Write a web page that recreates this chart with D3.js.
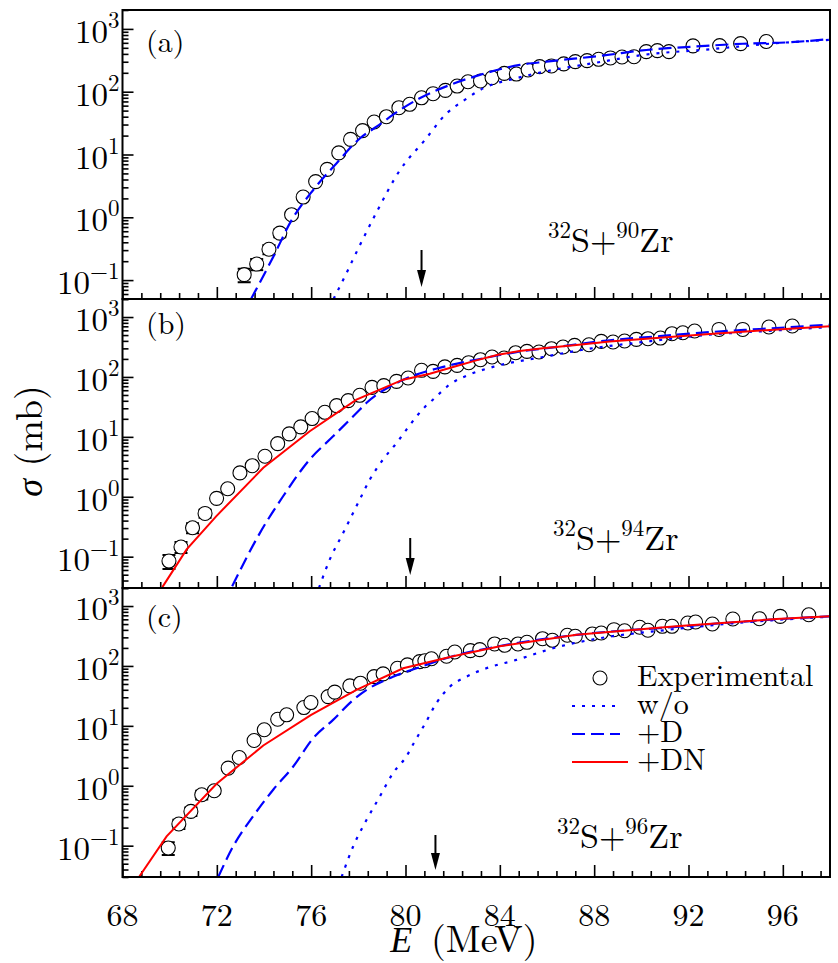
<!DOCTYPE html>
<html><head><meta charset="utf-8">
<script src="https://cdn.jsdelivr.net/npm/d3@7"></script>
<style>
body{margin:0;background:#fff}
svg{display:block}
</style>
</head><body>
<svg id="chart" width="838" height="963"></svg>
<script>
// ---------------- DATA ----------------
const xTicks = [68, 72, 76, 80, 84, 88, 92, 96];
const yTicks = [0.1, 1, 10, 100, 1000];
const panelLabels = ["(a)", "(b)", "(c)"];
const targets = ["90", "94", "96"];
const barrierE = [80.68, 80.2, 81.27];
const legendLabels = ["Experimental", "w/o", "+D", "+DN"];

// panel (a) 32S+90Zr : [E (MeV), sigma (mb)]
const expA = [[73.16,0.122],[73.69,0.18],[74.21,0.31],[74.67,0.56],[75.17,1.1],[75.66,2.1],[76.19,3.7],[76.68,5.8],[77.17,10.6],[77.67,17.4],[78.18,24],[78.67,32.9],[79.19,40],[79.72,55.6],[80.18,63],[80.68,80],[81.17,93],[81.69,105],[82.19,123],[82.65,144],[83.18,148],[83.67,167],[84.19,196],[84.70,191],[85.2,222],[85.69,251],[86.19,257],[86.71,277],[87.2,301],[87.7,312],[88.19,328],[88.69,345],[89.18,357],[89.69,361],[90.21,434],[90.68,451],[91.17,434],[92.19,536],[93.32,542],[94.21,583],[95.3,630]];
const errA = [0.03,0.036,0.052,0.08];
const woA = [[76.95,0.05],[77.5,0.13],[78.0,0.32],[78.77,1.2],[79.76,5.6],[80.82,17],[81.74,45],[82.51,74],[83.29,113],[84.7,164],[86.25,222],[87.95,284],[90.07,385],[92.9,474],[95.72,592],[98,670]];
const dA = [[73.45,0.05],[74.39,0.234],[75.17,0.9],[76.08,2.7],[77.07,7.2],[78.06,18],[78.77,27.7],[79.76,51],[80.6,78.5],[81.88,128],[83.15,185],[84.85,267],[85.97,301],[88.24,371],[90.49,474],[92.19,522],[94.3,580],[96.28,612],[98,690]];

// panel (b) 32S+94Zr
const expB = [[69.97,0.0845],[70.48,0.145],[70.97,0.304],[71.5,0.527],[71.99,0.94],[72.46,1.36],[72.98,2.5],[73.5,3.3],[74.04,4.75],[74.58,7.7],[75.07,11.2],[75.56,14.7],[76.04,20.2],[76.58,25.7],[77.08,33.2],[77.57,40.3],[78.06,49.4],[78.58,67],[79.08,71.6],[79.62,84.5],[80.11,96],[80.68,129],[81.17,124],[81.67,147],[82.19,156],[82.68,173],[83.18,194],[83.67,215],[84.18,207],[84.67,254],[85.15,267],[85.66,261],[86.19,296],[86.68,316],[87.17,336],[87.78,345],[88.3,392],[88.8,383],[89.29,398],[89.79,424],[90.28,435],[90.81,446],[91.3,527],[91.76,547],[92.26,584],[93.29,621],[94.3,621],[95.41,681],[96.4,708]];
const errB = [0.022,0.03,0.058,0.08];
const woB = [[76.33,0.03],[76.79,0.09],[77.36,0.25],[77.99,0.79],[78.49,1.94],[79.05,4.2],[79.62,7.9],[80.04,13.2],[80.47,22],[80.82,31.6],[81.17,42],[81.88,75],[82.72,110],[83.71,147],[85.83,215],[87.8,296],[90.07,383],[92.9,507],[95.72,598],[98,681]];
const dB = [[72.65,0.032],[73.83,0.25],[74.81,1.02],[75.94,4.2],[76.93,10.2],[77.92,25],[78.35,37],[79.76,84.5],[81.6,147],[83.36,207],[84.7,260],[86.5,320],[88.66,410],[90.78,480],[92.9,560],[95,630],[98,745]];
const dnB = [[69.69,0.031],[70.72,0.132],[71.99,0.48],[73.97,3.04],[75.94,12.4],[77.92,41.9],[79.9,90],[81.03,113],[82.02,147],[83.0,189],[83.92,235],[84.84,270],[85.83,300],[87.25,340],[88.66,390],[90.78,450],[92.9,520],[94.3,570],[98,700]];

// panel (c) 32S+96Zr
const expC = [[69.94,0.0916],[70.39,0.23],[70.9,0.373],[71.36,0.708],[71.89,0.826],[72.48,1.97],[72.95,2.96],[73.58,5.7],[74.01,8.6],[74.58,12.9],[74.96,15.3],[75.69,20.2],[75.99,24.5],[76.72,30.8],[77.0,36.5],[77.64,46.4],[78.09,51.5],[78.67,66.4],[79.05,73.6],[79.66,91.6],[80.08,104],[80.6,118],[80.82,122],[81.1,132],[81.74,145],[82.09,171],[82.75,180],[83.15,187],[83.78,233],[84.21,221],[84.77,233],[85.15,248],[85.81,285],[86.23,268],[86.86,325],[87.2,313],[87.92,342],[88.3,355],[88.84,403],[89.29,387],[89.93,442],[90.28,394],[90.89,459],[91.3,459],[91.97,521],[92.3,541],[93.01,501],[93.88,607],[95.01,614],[95.89,673],[97.1,716]];
const errC = [0.022,0.04,0.06,0.12,0.1];
const woC = [[77.29,0.03],[77.78,0.097],[78.35,0.27],[78.91,0.66],[79.47,1.63],[80.04,3.1],[80.32,4.9],[80.6,7.6],[80.82,10.7],[81.31,23.9],[81.88,45],[82.58,66],[83.43,91.6],[84.7,126],[86.25,197],[88.23,290],[91.06,398],[93.88,515],[98,664]];
const dC = [[72.06,0.03],[72.69,0.097],[73.54,0.31],[74.39,0.86],[75.24,2.1],[76.08,6.2],[76.93,12.6],[77.78,27],[78.35,39.8],[79.47,66],[80.47,91.6],[82.0,145],[84.0,215],[87.25,330],[91.48,450],[95.72,600],[98,673]];
const dnC = [[68.7,0.03],[69.87,0.143],[71.99,1.08],[73.97,4.7],[76.0,15.3],[77.92,39.8],[79.9,91.6],[82.02,145],[84.0,213],[87.25,333],[91.48,459],[95.72,607],[98,673]];

// ---------------- LAYOUT ----------------
const W = 838, H = 963;
const L = 122.5, R = 830;
const panelTop = [10, 299, 588];
const panelH = 289;
const yMinPanel = [0.05, 0.03, 0.03];
const yMax = 2000;
const FAM = "'Latin Modern Roman','Liberation Serif',serif";
const ITAL = "'Liberation Serif','DejaVu Serif',serif";
const BLUE = "#0000ff", RED = "#ff0000";

const panels = [
  {exp: expA, err: errA, wo: woA, d: dA, dn: null},
  {exp: expB, err: errB, wo: woB, d: dB, dn: dnB},
  {exp: expC, err: errC, wo: woC, d: dC, dn: dnC}
];
const labelPos = [{lx:146, ly:52, rx:548, ry:252, aTop:250, aTip:287},
                  {lx:146, ly:334, rx:553, ry:550, aTop:538, aTip:575},
                  {lx:146, ly:627, rx:557, ry:848, aTop:835, aTip:870}];

const svg = d3.select("#chart");
svg.append("rect").attr("width", W).attr("height", H).attr("fill", "#fff");

function txt(sel) { return sel.append("text").style("font-family", FAM).attr("fill", "#000"); }

const x = d3.scaleLinear().domain([68, 98]).range([L, R]);
const minorX = d3.range(0, 40).map(k => 68 + 0.8 * k).filter(v => v <= 98.0001 && !xTicks.some(m => Math.abs(m - v) < 1e-6));

panels.forEach((p, i) => {
  const top = panelTop[i], bot = top + panelH;
  const y = d3.scaleLog().domain([yMinPanel[i], yMax]).range([bot, top]);
  const g = svg.append("g");
  const clipId = "clip" + i;
  svg.append("clipPath").attr("id", clipId).append("rect")
    .attr("x", L).attr("y", top).attr("width", R - L).attr("height", panelH);

  const xa = g.append("g").attr("transform", `translate(0,${bot})`)
    .call(d3.axisBottom(x).tickValues(xTicks).tickSizeInner(-12).tickSizeOuter(0).tickFormat(""));
  const xm = g.append("g").attr("transform", `translate(0,${bot})`)
    .call(d3.axisBottom(x).tickValues(minorX).tickSizeInner(-6).tickSizeOuter(0).tickFormat(""));
  const minorY = [];
  for (let e = -2; e <= 3; e++) for (let m = 2; m <= 9; m++) {
    const v = m * Math.pow(10, e);
    if (v >= yMinPanel[i] && v <= yMax) minorY.push(v);
  }
  const ya = g.append("g").attr("transform", `translate(${L},0)`)
    .call(d3.axisLeft(y).tickValues(yTicks).tickSizeInner(-11).tickSizeOuter(0).tickFormat(""));
  const ym = g.append("g").attr("transform", `translate(${L},0)`)
    .call(d3.axisLeft(y).tickValues(minorY).tickSizeInner(-6).tickSizeOuter(0).tickFormat(""));
  [xa, xm, ya, ym].forEach(a => {
    a.select(".domain").remove();
    a.selectAll("text").remove();
    a.selectAll("line").attr("stroke", "#000").attr("stroke-width", 1.6);
  });

  yTicks.forEach(v => {
    const e = Math.round(Math.log10(v));
    const t = txt(g).attr("x", L - 3).attr("y", y(v) + 14)
      .attr("text-anchor", "end").style("font-size", "33px");
    t.append("tspan").text("10");
    t.append("tspan").attr("dy", -15).style("font-size", "23px")
      .text(e < 0 ? "\u2212" + (-e) : String(e));
  });

  const pg = g.append("g").attr("clip-path", `url(#${clipId})`);
  const line = d3.line().x(d => x(d[0])).y(d => y(d[1]));
  const smooth = d3.line().x(d => x(d[0])).y(d => y(d[1])).curve(d3.curveMonotoneX);

  p.err.forEach((e, k) => {
    const d = p.exp[k];
    const cx = x(d[0]);
    const y1 = y(Math.max(d[1] - e, yMinPanel[i])), y2 = y(d[1] + e);
    pg.append("line").attr("x1", cx).attr("x2", cx).attr("y1", y1).attr("y2", y2)
      .attr("stroke", "#000").attr("stroke-width", 1.5);
    [y1, y2].forEach(yy => pg.append("line").attr("x1", cx - 6.5).attr("x2", cx + 6.5)
      .attr("y1", yy).attr("y2", yy).attr("stroke", "#000").attr("stroke-width", 2));
  });
  pg.selectAll("circle.exp").data(p.exp).enter().append("circle")
    .attr("cx", d => x(d[0])).attr("cy", d => y(d[1])).attr("r", 7)
    .attr("fill", "#fff").attr("stroke", "#000").attr("stroke-width", 1.1);

  pg.append("path").datum(p.wo).attr("d", smooth).attr("fill", "none")
    .attr("stroke", BLUE).attr("stroke-width", 2.2).attr("stroke-dasharray", "3,7");
  pg.append("path").datum(p.d).attr("d", smooth).attr("fill", "none")
    .attr("stroke", BLUE).attr("stroke-width", 2.2).attr("stroke-dasharray", "13,6");
  if (p.dn) pg.append("path").datum(p.dn).attr("d", line).attr("fill", "none")
    .attr("stroke", RED).attr("stroke-width", 2);

  g.append("rect").attr("x", L).attr("y", top).attr("width", R - L).attr("height", panelH)
    .attr("fill", "none").attr("stroke", "#000").attr("stroke-width", 2);

  const lp = labelPos[i];
  txt(g).attr("x", lp.lx).attr("y", lp.ly).style("font-size", "30px").text(panelLabels[i]);
  const rt = txt(g).attr("x", lp.rx).attr("y", lp.ry).style("font-size", "34px");
  rt.append("tspan").attr("dy", -14).style("font-size", "23px").text("32");
  rt.append("tspan").attr("dy", 14).text("S+");
  rt.append("tspan").attr("dy", -14).style("font-size", "23px").text(targets[i]);
  rt.append("tspan").attr("dy", 14).text("Zr");

  const ax = x(barrierE[i]);
  g.append("line").attr("x1", ax).attr("x2", ax).attr("y1", lp.aTop).attr("y2", lp.aTip - 10)
    .attr("stroke", "#000").attr("stroke-width", 2);
  g.append("path").attr("d", `M${ax - 4.5},${lp.aTip - 17}L${ax + 4.5},${lp.aTip - 17}L${ax},${lp.aTip}Z`)
    .attr("fill", "#000");

  if (i === 2) {
    xTicks.forEach(v => txt(g).attr("x", x(v)).attr("y", bot + 49)
      .attr("text-anchor", "middle").style("font-size", "32px").text(v));
  }
});

// legend in panel (c)
const lg = svg.append("g");
const lgX = 572, lgTx = 637;
const lgY = [678, 706, 734, 762];
lg.append("circle").attr("cx", 600).attr("cy", lgY[0]).attr("r", 7).attr("fill", "#fff")
  .attr("stroke", "#000").attr("stroke-width", 1.1);
lg.append("line").attr("x1", lgX).attr("x2", 620).attr("y1", lgY[1]).attr("y2", lgY[1])
  .attr("stroke", BLUE).attr("stroke-width", 2.2).attr("stroke-dasharray", "3,7");
lg.append("line").attr("x1", lgX).attr("x2", 620).attr("y1", lgY[2]).attr("y2", lgY[2])
  .attr("stroke", BLUE).attr("stroke-width", 2.2).attr("stroke-dasharray", "13,6");
lg.append("line").attr("x1", lgX).attr("x2", 628).attr("y1", lgY[3]).attr("y2", lgY[3])
  .attr("stroke", RED).attr("stroke-width", 2);
legendLabels.forEach((t, k) => txt(lg).attr("x", lgTx).attr("y", lgY[k] + 8)
  .style("font-size", "30px").text(t));

const yt = txt(svg).attr("transform", `translate(42,441) rotate(-90)`)
  .attr("text-anchor", "middle").style("font-size", "38px");
yt.append("tspan").style("font-family", ITAL).style("font-style", "italic").style("font-size", "36px").text("σ");
yt.append("tspan").text(" (mb)");
const xt = txt(svg).attr("x", 464).attr("y", 952).attr("text-anchor", "middle").style("font-size", "38px");
xt.append("tspan").style("font-family", ITAL).style("font-style", "italic").style("font-size", "36px").text("E");
xt.append("tspan").attr("dx", 6).text(" (MeV)");
</script>
</body></html>
